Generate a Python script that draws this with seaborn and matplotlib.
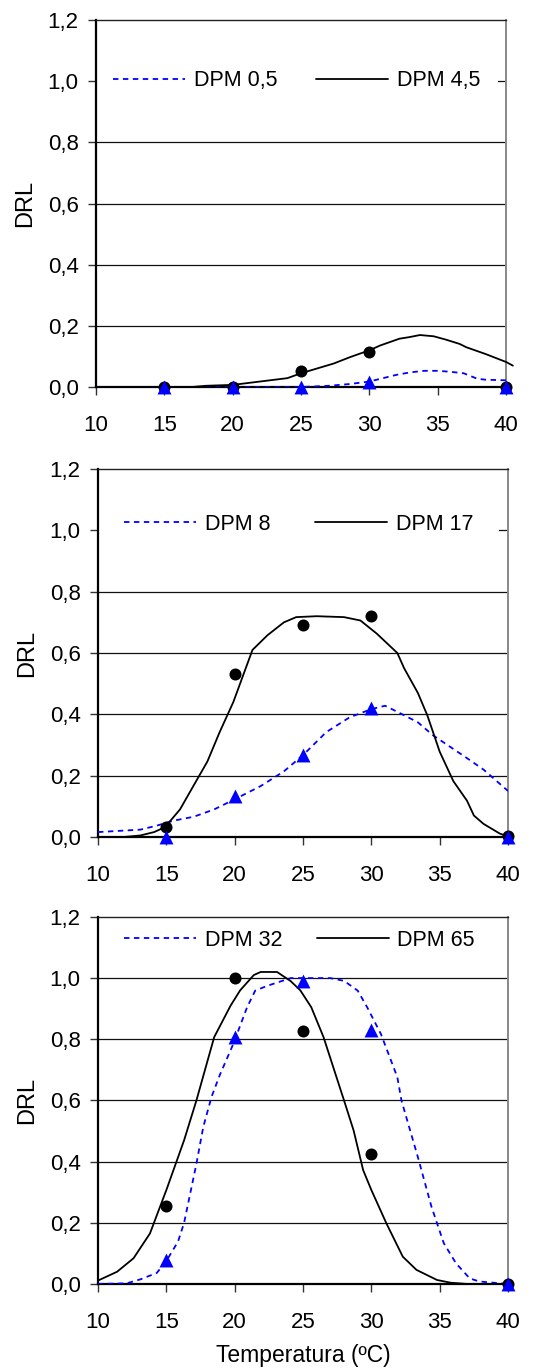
import matplotlib
matplotlib.use("Agg")
import matplotlib.pyplot as plt
from matplotlib.ticker import FuncFormatter
import pandas as pd
import seaborn as sns

# ---------------- data ----------------
temps = [15, 20, 25, 30, 40]
x_ticks = [10, 15, 20, 25, 30, 35, 40]
y_ticks = [0.0, 0.2, 0.4, 0.6, 0.8, 1.0, 1.2]

# panel 1
p1_labels = ["DPM 0,5", "DPM 4,5"]
p1_obs_dash = [0.0, 0.0, 0.0, 0.015, 0.0]
p1_obs_solid = [0.0, 0.0, 0.053, 0.115, 0.0]
p1_fit_dash_x = [10, 25, 27, 28.6, 30, 31, 32, 33, 34, 35, 35.9, 36.9, 37.9, 38.5, 40]
p1_fit_dash_y = [0, 0, 0.004, 0.01, 0.018, 0.029, 0.04, 0.048, 0.053, 0.053, 0.05, 0.045, 0.027, 0.024, 0.022]
p1_fit_solid_x = [10, 17, 18, 20, 22, 24, 25, 27.4, 28.6, 30, 30.8, 32.2, 32.9, 33.7, 34.7, 35.6,
                  36.6, 37.1, 38.5, 40, 40.5]
p1_fit_solid_y = [0, 0, 0.004, 0.007, 0.018, 0.029, 0.045, 0.077, 0.098, 0.12, 0.136, 0.158, 0.163,
                  0.17, 0.166, 0.155, 0.141, 0.13, 0.108, 0.082, 0.07]

# panel 2
p2_labels = ["DPM 8", "DPM 17"]
p2_obs_dash = [0.0, 0.134, 0.267, 0.42, 0.0]
p2_obs_solid = [0.034, 0.53, 0.69, 0.72, 0.003]
p2_fit_dash_x = [10, 13.1, 14.3, 15.5, 17, 18.5, 20, 21.9, 23.6, 25, 26.7, 28.4, 30, 31, 32, 33.4,
                 34.5, 37, 38.2, 40]
p2_fit_dash_y = [0.016, 0.024, 0.037, 0.053, 0.066, 0.09, 0.123, 0.166, 0.214, 0.267, 0.342, 0.39,
                 0.417, 0.428, 0.406, 0.374, 0.332, 0.257, 0.22, 0.15]
p2_fit_solid_x = [10, 11.9, 13.1, 14.1, 14.9, 16, 17.1, 18, 18.9, 19.9, 21.3, 22.4, 23.6, 24.5, 26,
                  28, 29.2, 30.4, 31.9, 32.4, 33.4, 34.1, 35, 36, 37, 37.5, 38.2, 39.4, 40]
p2_fit_solid_y = [0, 0, 0.005, 0.016, 0.032, 0.09, 0.176, 0.246, 0.342, 0.44, 0.61, 0.658, 0.7,
                  0.717, 0.72, 0.717, 0.706, 0.663, 0.6, 0.55, 0.47, 0.396, 0.278, 0.182, 0.118,
                  0.07, 0.043, 0.011, 0.002]

# panel 3
p3_labels = ["DPM 32", "DPM 65"]
p3_obs_dash = [0.077, 0.806, 0.99, 0.83, 0.0]
p3_obs_solid = [0.255, 1.0, 0.826, 0.426, 0.0]
p3_fit_dash_x = [10, 12.1, 13.1, 14.3, 15, 15.85, 16.3, 17.2, 17.7, 18.3, 18.9, 19.9, 20.9, 21.5,
                 22.4, 24.1, 27, 28, 29, 29.7, 30.7, 31.9, 32.2, 33.4, 34.4, 35.3, 36.2, 37.2,
                 37.9, 40]
p3_fit_dash_y = [0, 0.002, 0.015, 0.036, 0.075, 0.138, 0.2, 0.393, 0.513, 0.611, 0.682, 0.785,
                 0.904, 0.959, 0.975, 1.0, 1.0, 0.991, 0.959, 0.904, 0.817, 0.676, 0.6, 0.415,
                 0.252, 0.133, 0.067, 0.018, 0.008, 0]
p3_fit_solid_x = [10, 11.4, 12.6, 13.8, 15, 16.3, 17.2, 18.5, 19.7, 20.4, 21.4, 21.9, 23.1, 24.1,
                  24.8, 25.6, 26.5, 28, 28.7, 29.4, 30, 31.1, 32.3, 33.3, 34.8, 35.8, 37, 40]
p3_fit_solid_y = [0.011, 0.04, 0.084, 0.165, 0.307, 0.47, 0.6, 0.807, 0.91, 0.96, 1.01, 1.02,
                  1.02, 0.99, 0.96, 0.905, 0.807, 0.6, 0.502, 0.372, 0.307, 0.198, 0.089, 0.046,
                  0.013, 0.004, 0.0, 0.0]

x_label = "Temperatura (ºC)"
y_label = "DRL"

# ---------------- style ----------------
sns.set_theme(style="white")
plt.rcParams["font.family"] = ["Liberation Sans", "DejaVu Sans"]
plt.rcParams["text.color"] = "black"
plt.rcParams["axes.labelcolor"] = "black"
plt.rcParams["xtick.color"] = "black"
plt.rcParams["ytick.color"] = "black"
FS = 15.5
TFS = 16
BLUE = "#0000FF"

fig = plt.figure(figsize=(5.46, 13.71), dpi=100)

panels = [
    dict(rect=[0.1758, 0.7177, 0.751, 0.2677], labels=p1_labels,
         od=p1_obs_dash, os=p1_obs_solid,
         fdx=p1_fit_dash_x, fdy=p1_fit_dash_y, fsx=p1_fit_solid_x, fsy=p1_fit_solid_y,
         leg_y=0.835, leg_pad=0.8, colsp=1.8, xlabel=False),
    dict(rect=[0.1795, 0.3895, 0.751, 0.2684], labels=p2_labels,
         od=p2_obs_dash, os=p2_obs_solid,
         fdx=p2_fit_dash_x, fdy=p2_fit_dash_y, fsx=p2_fit_solid_x, fsy=p2_fit_solid_y,
         leg_y=0.85, leg_pad=1.2, colsp=2.1, xlabel=False),
    dict(rect=[0.1795, 0.0635, 0.751, 0.2677], labels=p3_labels,
         od=p3_obs_dash, os=p3_obs_solid,
         fdx=p3_fit_dash_x, fdy=p3_fit_dash_y, fsx=p3_fit_solid_x, fsy=p3_fit_solid_y,
         leg_y=0.937, leg_pad=1.2, colsp=1.6, xlabel=True),
]

comma = FuncFormatter(lambda v, pos: f"{v:.1f}".replace(".", ","))

for p in panels:
    ax = fig.add_axes(p["rect"])
    ax.set_facecolor("white")
    # grid lines
    for yv in y_ticks[1:-1]:
        ax.axhline(yv, color="#111111", lw=0.9, zorder=0)

    dfd = pd.DataFrame({"x": p["fdx"], "y": p["fdy"]})
    dfs = pd.DataFrame({"x": p["fsx"], "y": p["fsy"]})
    sns.lineplot(data=dfd, x="x", y="y", ax=ax, color=BLUE, lw=1.3, sort=False,
                 estimator=None, zorder=3)
    ax.lines[-1].set_linestyle((0, (3, 2.5)))
    line_dash = ax.lines[-1]
    sns.lineplot(data=dfs, x="x", y="y", ax=ax, color="black", lw=1.3, sort=False,
                 estimator=None, zorder=3)
    line_solid = ax.lines[-1]
    line_solid.set_clip_on(False)

    obs = pd.DataFrame({"t": temps, "d": p["od"], "s": p["os"]})
    sns.scatterplot(data=obs, x="t", y="s", ax=ax, color="black", marker="o", s=75,
                    edgecolor="black", linewidth=0, zorder=4, clip_on=False)
    sns.scatterplot(data=obs, x="t", y="d", ax=ax, color=BLUE, marker="^", s=100,
                    edgecolor=BLUE, linewidth=0, zorder=5, clip_on=False)

    ax.set_xlim(10, 40)
    ax.set_ylim(0, 1.2)
    ax.set_xticks(x_ticks)
    ax.set_yticks(y_ticks)
    ax.yaxis.set_major_formatter(comma)
    ax.tick_params(axis="x", direction="out", length=5.5, width=1.0, color="#333333",
                   pad=14.5, labelsize=TFS, bottom=True)
    ax.tick_params(axis="y", direction="out", length=5.5, width=1.0, color="#333333",
                   pad=7, labelsize=TFS, left=True)
    ax.set_ylabel(y_label, fontsize=17, labelpad=8)
    if p["xlabel"]:
        ax.set_xlabel(x_label, fontsize=16.5, labelpad=8)
    else:
        ax.set_xlabel("")

    for side, col, lw in [("left", "black", 1.6), ("bottom", "black", 1.6),
                          ("top", "#222222", 1.0), ("right", "#888888", 1.4)]:
        ax.spines[side].set_visible(True)
        ax.spines[side].set_color(col)
        ax.spines[side].set_linewidth(lw)

    leg = ax.legend([line_dash, line_solid], p["labels"], loc="center left",
                    bbox_to_anchor=(0.0, p["leg_y"]), ncol=2, frameon=True,
                    fontsize=FS, handlelength=3.35, handletextpad=0.4,
                    columnspacing=p["colsp"], borderpad=p["leg_pad"],
                    borderaxespad=0.0, fancybox=False)
    leg.get_frame().set_facecolor("white")
    leg.get_frame().set_edgecolor("none")
    leg.get_frame().set_alpha(1.0)
    leg.set_zorder(2)

fig.savefig("out.png", dpi=100)
